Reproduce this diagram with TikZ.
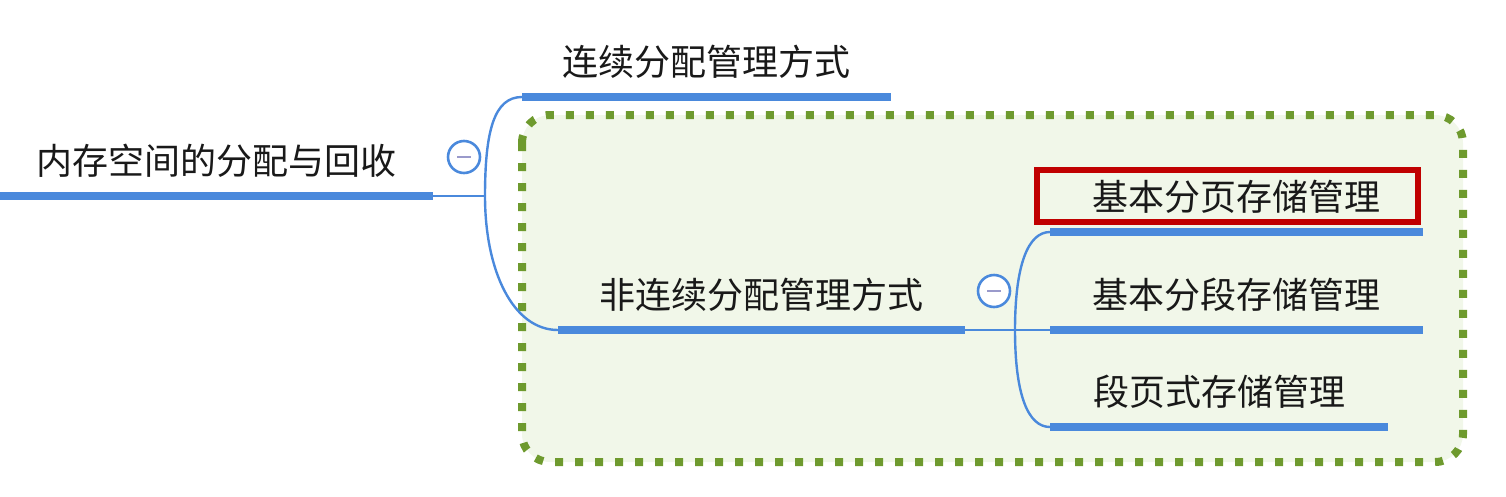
\documentclass[tikz,border=0pt]{standalone}
\usepackage{fontspec}
\newfontfamily\cjk{Noto Sans CJK SC}
\usetikzlibrary{calc}
\definecolor{mblue}{HTML}{4A89DC}
\definecolor{mgreen}{HTML}{6E9A2E}
\definecolor{lightgreen}{HTML}{F1F7E9}
\definecolor{boxred}{HTML}{C00000}
\definecolor{minusgray}{HTML}{9A9ACB}

\tikzset{
  topic/.style={font=\cjk\fontsize{36}{40}\selectfont, text=black!90, inner xsep=0pt, inner ysep=21pt, text height=30pt, text depth=0pt, anchor=south west},
  bar/.style={draw=mblue, line width=8pt},
  link/.style={draw=mblue, line width=2.4pt},
  fold/.style={circle, draw=mblue, line width=2.6pt, fill=white, minimum size=32pt, inner sep=0pt},
  minus/.style={draw=minusgray, line width=2.6pt},
  groupbox/.style={draw=mgreen, fill=lightgreen, line width=8pt, dash pattern=on 8pt off 12pt, rounded corners=28pt},
  hilite/.style={draw=boxred, line width=6pt}
}

\begin{document}
\begin{tikzpicture}[x=1pt, y=-1pt]
  \useasboundingbox (0,0) rectangle (1506,496);

  % group around the second branch
  \draw[groupbox] (522,115) rectangle (1463,462);

  % topics
  \node[topic, minimum width=433pt] (root) at (0,196) {内存空间的分配与回收};
  \node[topic, minimum width=369pt] (cont) at (522,97) {连续分配管理方式};
  \node[topic, minimum width=407pt] (noncont) at (558,330) {非连续分配管理方式};
  \node[topic, minimum width=373pt] (page) at (1050,232) {基本分页存储管理};
  \node[topic, minimum width=373pt] (seg) at (1050,330) {基本分段存储管理};
  \node[topic, minimum width=338pt] (segpage) at (1050,427) {段页式存储管理};

  % underlines
  \foreach \n in {root, cont, noncont, page, seg, segpage}
    \draw[bar] (\n.south west) -- (\n.south east);

  % connectors
  \coordinate (hubA) at (485,196);
  \coordinate (hubB) at (1015,330);
  \draw[link] (root.south east) -- (hubA);
  \draw[link] (hubA) .. controls +(0,-65) and +(-28,0) .. (cont.south west);
  \draw[link] (hubA) .. controls +(0,75) and +(-45,0) .. (noncont.south west);
  \draw[link] (noncont.south east) -- (hubB);
  \draw[link] (hubB) .. controls +(0,-65) and +(-22,0) .. (page.south west);
  \draw[link] (hubB) -- (seg.south west);
  \draw[link] (hubB) .. controls +(0,65) and +(-22,0) .. (segpage.south west);

  % fold buttons
  \node[fold] (foldA) at (464,157) {};
  \draw[minus] ([xshift=-7pt]foldA.center) -- ([xshift=7pt]foldA.center);
  \node[fold] (foldB) at (994,291) {};
  \draw[minus] ([xshift=-7pt]foldB.center) -- ([xshift=7pt]foldB.center);

  % highlight
  \draw[hilite] ($(page.south west)+(-13,-10)$) rectangle ($(page.south east)+(-5,-62)$);
\end{tikzpicture}
\end{document}
